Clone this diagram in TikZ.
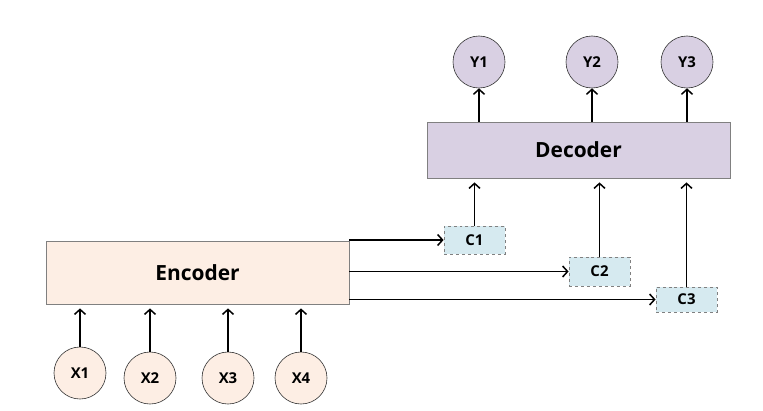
\documentclass[tikz,border=0pt]{standalone}
\usepackage{fontspec}
\setmainfont{Open Sans}
\usetikzlibrary{arrows.meta}
\definecolor{encfill}{RGB}{253,238,228}
\definecolor{decfill}{RGB}{217,208,227}
\definecolor{ctxfill}{RGB}{214,234,240}
\definecolor{edge}{RGB}{128,128,128}

\begin{document}
\begin{tikzpicture}[x=1bp,y=1bp,inner sep=0pt,font=\bfseries,
  block/.style={draw=edge,line width=0.8bp,minimum width=303bp},
  unit/.style={circle,draw=black!80,line width=0.6bp,minimum size=52bp,font=\bfseries\fontsize{15}{18}\selectfont},
  ctx/.style={draw=edge,dashed,line width=0.8bp,fill=ctxfill,minimum width=61bp,font=\bfseries\fontsize{15}{18}\selectfont},
  link/.style={-{Straight Barb[length=5bp,width=11bp]},line width=1.5bp}]
\useasboundingbox (0,0) rectangle (763,410);
\node[block,fill=encfill,minimum height=63bp,font=\bfseries\fontsize{21}{25}\selectfont] (enc) at (197.5,137.5) {Encoder};
\node[block,fill=decfill,minimum height=56bp,font=\bfseries\fontsize{21}{25}\selectfont] (dec) at (578.5,260) {Decoder};
\node[unit,fill=encfill] (x1) at ( 80,37) {X1};
\node[unit,fill=encfill] (x2) at (150,32) {X2};
\node[unit,fill=encfill] (x3) at (228,32) {X3};
\node[unit,fill=encfill] (x4) at (301,32) {X4};
\node[unit,fill=decfill] (y1) at (479,348) {Y1};
\node[unit,fill=decfill] (y2) at (592,348) {Y2};
\node[unit,fill=decfill] (y3) at (687,348) {Y3};
\node[ctx,minimum height=28bp] (c1) at (474.5,170) {C1};
\node[ctx,minimum height=29bp] (c2) at (599.5,138.5) {C2};
\node[ctx,minimum height=25bp] (c3) at (686.5,110.5) {C3};
\foreach \i in {1,...,4}
  \draw[link,shorten >=4bp] (x\i.north) -- (x\i.north |- enc.south);
\draw[link] (dec.north -| y1.south) -- (y1.south);
\draw[link] (dec.north -| y2.south) -- (y2.south);
\draw[link] (dec.north -| y3.south) -- (y3.south);
\foreach \i in {1,2,3}
  \draw[link] (enc.east |- c\i.west) -- (c\i.west);
\foreach \i in {1,2,3}
  \draw[link,shorten >=4bp] (c\i.north) -- (c\i.north |- dec.south);
\end{tikzpicture}
\end{document}
